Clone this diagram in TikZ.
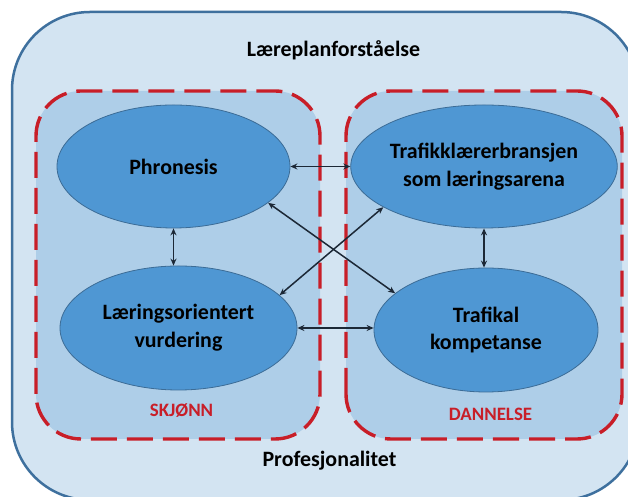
\documentclass[tikz,border=0pt]{standalone}
\usepackage{fontspec}
\setmainfont{Carlito}
\usetikzlibrary{shapes.geometric,arrows.meta}
\definecolor{outerfill}{RGB}{211,228,242}
\definecolor{outerline}{RGB}{62,112,158}
\definecolor{panelfill}{RGB}{174,206,232}
\definecolor{ellfill}{RGB}{79,151,211}
\definecolor{ellline}{RGB}{60,108,150}
\definecolor{dashred}{RGB}{200,30,40}
\definecolor{arrowc}{RGB}{28,40,54}
\tikzset{
  panel/.style={draw=dashred, fill=panelfill, line width=3.4bp, dash pattern=on 26bp off 10bp, rounded corners=45bp},
  ell/.style={ellipse, draw=ellline, line width=0.8bp, fill=ellfill, inner sep=0pt, align=center, font=\bfseries\fontsize{22}{28}\selectfont},
  title/.style={anchor=base, font=\bfseries\fontsize{22}{28}\selectfont, inner sep=0pt},
  redlabel/.style={anchor=base, text=dashred, font=\bfseries\fontsize{19}{24}\selectfont, inner sep=0pt},
  arr/.style={draw=arrowc, line width=1.5bp, {Stealth[length=7bp,width=6bp]}-{Stealth[length=7bp,width=6bp]}}
}
\begin{document}
\begin{tikzpicture}[x=1bp,y=1bp]
\useasboundingbox (0,0) rectangle (628,497);
\clip (0,0) rectangle (628,497);
\fill[white] (0,0) rectangle (628,497);
\draw[draw=outerline, fill=outerfill, line width=2.5bp, rounded corners=78bp] (12,-3) rectangle (639,485);
\draw[panel] (36,58) rectangle (320,406);
\draw[panel] (346,58) rectangle (622,406);

\node[ell, minimum width=233bp, minimum height=123bp] (phr) at (173.5,330.5) {Phronesis};
\node[ell, minimum width=228bp, minimum height=123bp] (tb) at (484,330.5) {Trafikklærerbransjen\\som læringsarena};
\node[ell, minimum width=237bp, minimum height=124bp] (lo) at (178.5,169) {Læringsorientert\\vurdering};
\node[ell, minimum width=224bp, minimum height=124bp] (tk) at (486,167) {Trafikal\\kompetanse};

\node[title] (t1) at (333.5,440) {Læreplanforståelse};
\node[title] (t2) at (329.5,30) {Profesjonalitet};
\node[redlabel] (s1) at (181.5,80) {SKJØNN};
\node[redlabel] (s2) at (490.5,76) {DANNELSE};

\draw[arr] (phr.east) -- (tb.west);
\draw[arr] (phr.south) -- (phr.south |- lo.north);
\draw[arr] (tb.south) -- (tb.south |- tk.north);
\draw[arr] (lo.east) -- (lo.east -| tk.west);
\draw[arr] (phr.-21) -- (tk.158);
\draw[arr] (lo.18) -- (tb.-158);
\end{tikzpicture}
\end{document}
